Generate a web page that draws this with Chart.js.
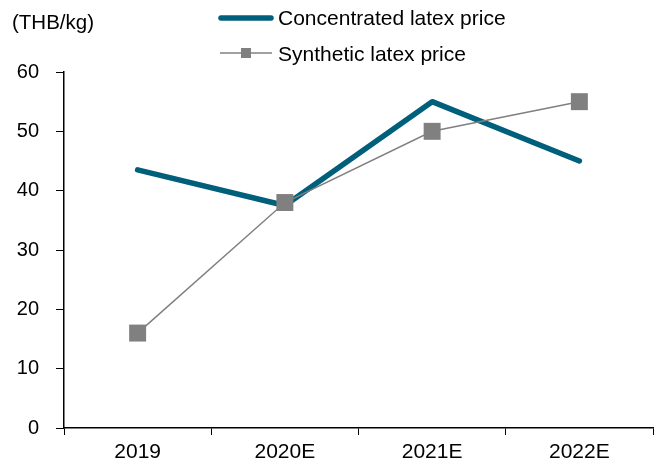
<!DOCTYPE html>
<html><head><meta charset="utf-8">
<script src="https://cdn.jsdelivr.net/npm/chart.js@4"></script>
<style>html,body{margin:0;padding:0;background:#fff}#wrap{width:665px;height:468px;position:relative}</style>
</head><body><div id="wrap"><canvas id="c"></canvas></div>
<script>
const categories = ["2019", "2020E", "2021E", "2022E"];
const concentratedPrice = [43.5, 37.5, 55, 45];
const syntheticPrice = [16, 38, 50, 55];
const yTicks = [0, 10, 20, 30, 40, 50, 60];
const unitLabel = "(THB/kg)";
const seriesNames = ["Concentrated latex price", "Synthetic latex price"];

const TEAL = "#00607C", GRAY = "#808080";
const FONT = "'Liberation Sans', Arial, sans-serif";

const legendPlugin = {
  id: 'customLegend',
  afterDraw(chart) {
    const ctx = chart.ctx;
    ctx.save();
    ctx.fillStyle = "#000";
    ctx.textBaseline = "middle";
    ctx.font = "20.5px " + FONT;
    ctx.fillText(unitLabel, 12, 23);
    ctx.font = "21px " + FONT;
    // series 1
    ctx.strokeStyle = TEAL; ctx.lineWidth = 5.5; ctx.lineCap = "round";
    ctx.beginPath(); ctx.moveTo(221, 18); ctx.lineTo(271, 18); ctx.stroke();
    ctx.fillText(seriesNames[0], 278, 19);
    // series 2
    ctx.strokeStyle = GRAY; ctx.lineWidth = 1.5; ctx.lineCap = "butt";
    ctx.beginPath(); ctx.moveTo(220, 53); ctx.lineTo(272, 53); ctx.stroke();
    ctx.fillStyle = GRAY; ctx.fillRect(241, 48, 10, 10);
    ctx.fillStyle = "#000";
    ctx.fillText(seriesNames[1], 278, 55);
    ctx.restore();
  }
};

new Chart(document.getElementById('c'), {
  type: 'line',
  data: {
    labels: categories,
    datasets: [
      { label: seriesNames[0], data: concentratedPrice, borderColor: TEAL, backgroundColor: TEAL,
        borderWidth: 5.5, pointRadius: 0, borderCapStyle: 'round', borderJoinStyle: 'round', tension: 0, order: 2 },
      { label: seriesNames[1], data: syntheticPrice, borderColor: GRAY, backgroundColor: GRAY,
        borderWidth: 1.5, pointRadius: 12, pointHoverRadius: 12, pointStyle: 'rect', pointBorderWidth: 0, tension: 0, order: 1 }
    ]
  },
  options: {
    responsive: true, maintainAspectRatio: false, animation: false,
    layout: { padding: { left: 0, right: 8, top: 72, bottom: 0 } },
    plugins: { legend: { display: false }, tooltip: { enabled: false } },
    scales: {
      x: {
        offset: true,
        grid: { offset: true, drawOnChartArea: false, drawTicks: true, tickLength: 7, color: '#000', lineWidth: 1 },
        border: { color: '#000', width: 1.5 },
        ticks: { color: '#000', font: { size: 21, family: FONT }, padding: 5, maxRotation: 0 },
        afterFit(s) { s.height = 40; }
      },
      y: {
        min: 0, max: 60,
        afterBuildTicks(s) { s.ticks = yTicks.map(v => ({ value: v })); },
        grid: { drawOnChartArea: false, drawTicks: true, tickLength: 8, color: '#000', lineWidth: 1 },
        border: { color: '#000', width: 1.5 },
        ticks: { color: '#000', font: { size: 20, family: FONT }, padding: 17 },
        afterFit(s) { s.width = 64; }
      }
    }
  },
  plugins: [legendPlugin]
});
</script></body></html>
